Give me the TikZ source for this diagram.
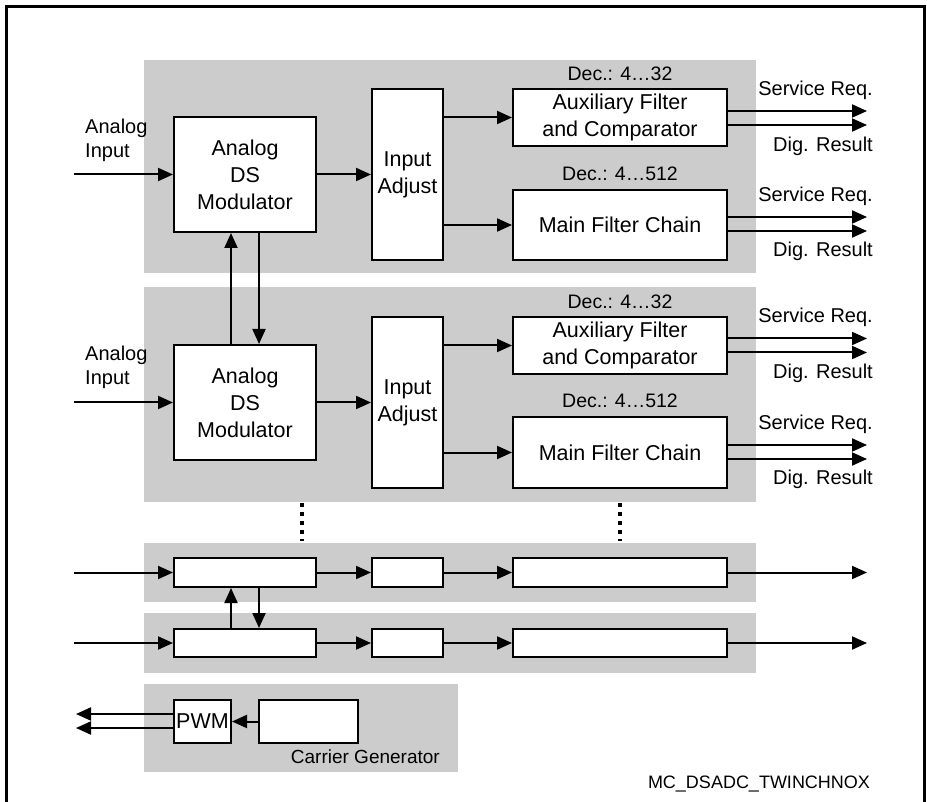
\documentclass[tikz,border=0pt]{standalone}
\usepackage{fontspec}
\setmainfont{Liberation Sans}
\usetikzlibrary{arrows.meta}
\definecolor{panelgray}{HTML}{CCCCCC}
\begin{document}
\begin{tikzpicture}[x=1pt,y=-1pt,
  panel/.style={fill=panelgray, draw=none},
  box/.style={draw, line width=2pt, fill=white, align=center, inner sep=0pt,
    font=\fontsize{21.5}{27}\selectfont},
  arr/.style={line width=2pt, -{Triangle[length=15pt,width=13pt]}},
  lbl/.style={font=\fontsize{20}{24}\selectfont, inner sep=0pt, align=left},
  declbl/.style={font=\fontsize{19.5}{23}\selectfont, inner sep=0pt},
  dots/.style={line width=4pt, dash pattern=on 4pt off 5pt},
]
\useasboundingbox (0,0) rectangle (927,802);
% outer frame
\draw[line width=3pt] (6,803) -- (6,7) -- (924,7) -- (924,803);
% panels
\fill[panel] (144,60) rectangle (756,273);
\fill[panel] (144,287) rectangle (756,502);
\fill[panel] (144,543) rectangle (756,602);
\fill[panel] (144,613) rectangle (756,673);
\fill[panel] (144,684) rectangle (458,772);

% ---------- channel 1 ----------
\node[box, minimum width=142pt, minimum height=115pt] (mod1) at (245,174.5) {Analog\\DS\\Modulator};
\node[box, minimum width=71pt, minimum height=171pt] (ia1) at (407.5,174.5) {Input\\Adjust};
\node[box, minimum width=214pt, minimum height=57pt] (aux1) at (620,117.5) {Auxiliary Filter\\and Comparator};
\node[box, minimum width=214pt, minimum height=70pt] (main1) at (620,225) {Main Filter Chain};
\node[lbl, anchor=west] (ai1) at (85,140) {Analog\\Input};
\node[declbl] (dec1a) at (620,74) {Dec.: 4…32};
\node[declbl] (dec1b) at (620,174) {Dec.: 4…512};
\node[lbl, anchor=east] (sr1a) at (873,90) {Service Req.};
\node[lbl, anchor=east] (dr1a) at (873,146) {Dig. Result};
\node[lbl, anchor=east] (sr1b) at (873,196) {Service Req.};
\node[lbl, anchor=east] (dr1b) at (873,251) {Dig. Result};
\coordinate (in1) at (74,174.5);
\coordinate (o1a) at (867,111);
\coordinate (o1b) at (867,125);
\coordinate (o1c) at (867,217);
\coordinate (o1d) at (867,231);
\draw[arr] (in1) -- (mod1.west);
\draw[arr] (mod1.east) -- (ia1.west);
\draw[arr] (ia1.east |- aux1.west) -- (aux1.west);
\draw[arr] (ia1.east |- main1.west) -- (main1.west);
\draw[arr] (aux1.east |- o1a) -- (o1a);
\draw[arr] (aux1.east |- o1b) -- (o1b);
\draw[arr] (main1.east |- o1c) -- (o1c);
\draw[arr] (main1.east |- o1d) -- (o1d);

% ---------- channel 2 ----------
\node[box, minimum width=142pt, minimum height=115pt] (mod2) at (245,402.5) {Analog\\DS\\Modulator};
\node[box, minimum width=71pt, minimum height=171pt] (ia2) at (407.5,402.5) {Input\\Adjust};
\node[box, minimum width=214pt, minimum height=57pt] (aux2) at (620,345.5) {Auxiliary Filter\\and Comparator};
\node[box, minimum width=214pt, minimum height=70pt] (main2) at (620,452.5) {Main Filter Chain};
\node[lbl, anchor=west] (ai2) at (85,367) {Analog\\Input};
\node[declbl] (dec2a) at (620,302) {Dec.: 4…32};
\node[declbl] (dec2b) at (620,401) {Dec.: 4…512};
\node[lbl, anchor=east] (sr2a) at (873,317) {Service Req.};
\node[lbl, anchor=east] (dr2a) at (873,373) {Dig. Result};
\node[lbl, anchor=east] (sr2b) at (873,424) {Service Req.};
\node[lbl, anchor=east] (dr2b) at (873,479) {Dig. Result};
\coordinate (in2) at (74,402.5);
\coordinate (o2a) at (867,338.5);
\coordinate (o2b) at (867,352.5);
\coordinate (o2c) at (867,445);
\coordinate (o2d) at (867,459);
\draw[arr] (in2) -- (mod2.west);
\draw[arr] (mod2.east) -- (ia2.west);
\draw[arr] (ia2.east |- aux2.west) -- (aux2.west);
\draw[arr] (ia2.east |- main2.west) -- (main2.west);
\draw[arr] (aux2.east |- o2a) -- (o2a);
\draw[arr] (aux2.east |- o2b) -- (o2b);
\draw[arr] (main2.east |- o2c) -- (o2c);
\draw[arr] (main2.east |- o2d) -- (o2d);

% coupling between modulators
\coordinate (up1) at (231,0);
\coordinate (dn1) at (259,0);
\draw[arr] (mod2.north -| up1) -- (mod1.south -| up1);
\draw[arr] (mod1.south -| dn1) -- (mod2.north -| dn1);

% dotted continuation
\coordinate (d1t) at (302,503);
\coordinate (d1b) at (302,541);
\coordinate (d2t) at (620,503);
\coordinate (d2b) at (620,541);
\draw[dots] (d1t) -- (d1b);
\draw[dots] (d2t) -- (d2b);

% ---------- channel n-1 ----------
\node[box, minimum width=142pt, minimum height=29pt] (b31) at (245,572.5) {};
\node[box, minimum width=71pt, minimum height=29pt] (b32) at (407.5,572.5) {};
\node[box, minimum width=214pt, minimum height=29pt] (b33) at (620,572.5) {};
\coordinate (in3) at (74,572.5);
\coordinate (o3) at (867,572.5);
\draw[arr] (in3) -- (b31.west);
\draw[arr] (b31.east) -- (b32.west);
\draw[arr] (b32.east) -- (b33.west);
\draw[arr] (b33.east) -- (o3);

% ---------- channel n ----------
\node[box, minimum width=142pt, minimum height=28pt] (b41) at (245,643) {};
\node[box, minimum width=71pt, minimum height=28pt] (b42) at (407.5,643) {};
\node[box, minimum width=214pt, minimum height=28pt] (b43) at (620,643) {};
\coordinate (in4) at (74,643);
\coordinate (o4) at (867,643);
\draw[arr] (in4) -- (b41.west);
\draw[arr] (b41.east) -- (b42.west);
\draw[arr] (b42.east) -- (b43.west);
\draw[arr] (b43.east) -- (o4);
\draw[arr] (b41.north -| up1) -- (b31.south -| up1);
\draw[arr] (b31.south -| dn1) -- (b41.north -| dn1);

% ---------- carrier generator ----------
\node[box, minimum width=57pt, minimum height=43pt] (pwm) at (202.5,721.5) {PWM};
\node[box, minimum width=99pt, minimum height=43pt] (car) at (308.5,721.5) {};
\node[lbl, anchor=east, font=\fontsize{19}{22}\selectfont] (cgl) at (440,757) {Carrier Generator};
\coordinate (p1) at (76,714);
\coordinate (p2) at (76,728);
\draw[arr] (car.west) -- (pwm.east);
\draw[arr] (pwm.west |- p1) -- (p1);
\draw[arr] (pwm.west |- p2) -- (p2);

% figure tag
\node[lbl, font=\fontsize{18}{21}\selectfont] (tag) at (759,784) {MC\_DSADC\_TWINCHNOX};
\end{tikzpicture}
\end{document}
